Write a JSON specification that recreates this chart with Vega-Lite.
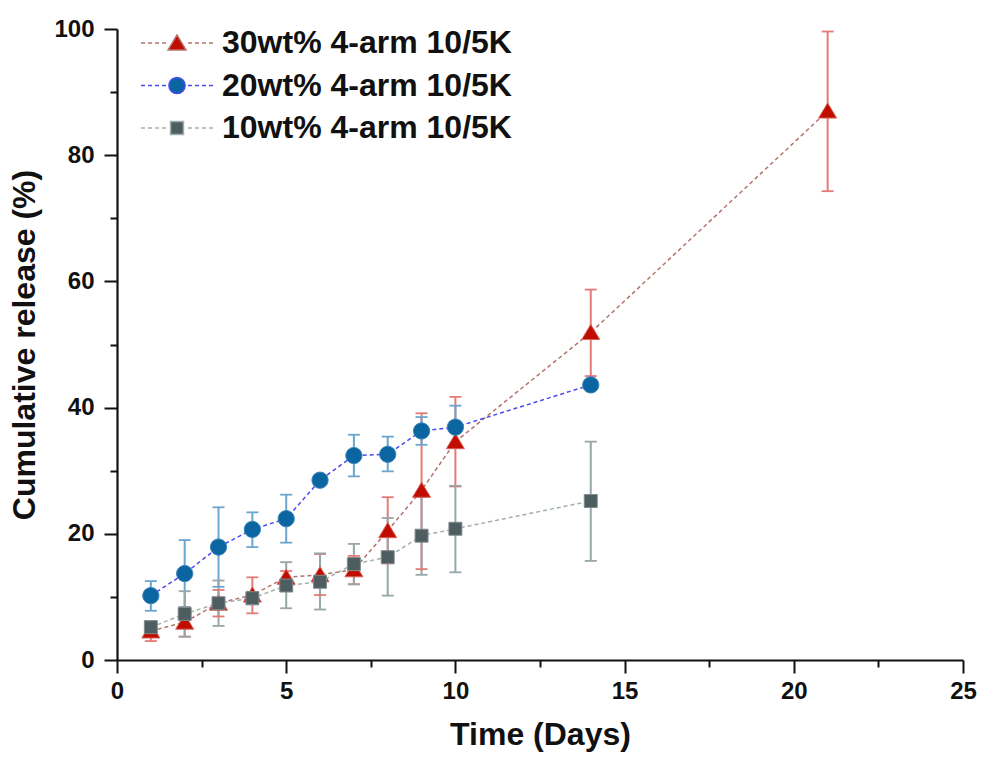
{
  "$schema": "https://vega.github.io/schema/vega-lite/v6.json",
  "autosize": {"type": "none"},
  "width": 846,
  "height": 631,
  "padding": {"left": 117, "top": 29, "right": 19, "bottom": 100},
  "background": "white",
  "data": {"values": [
    {"series": "30wt% 4-arm 10/5K", "day": 1, "value": 4.6, "lo": 3.0, "hi": 6.2},
    {"series": "30wt% 4-arm 10/5K", "day": 2, "value": 6.0, "lo": 3.7, "hi": 8.3},
    {"series": "30wt% 4-arm 10/5K", "day": 3, "value": 9.0, "lo": 6.9, "hi": 11.1},
    {"series": "30wt% 4-arm 10/5K", "day": 4, "value": 10.3, "lo": 7.4, "hi": 13.1},
    {"series": "30wt% 4-arm 10/5K", "day": 5, "value": 13.1, "lo": 12.0, "hi": 14.1},
    {"series": "30wt% 4-arm 10/5K", "day": 6, "value": 13.5, "lo": 10.3, "hi": 16.8},
    {"series": "30wt% 4-arm 10/5K", "day": 7, "value": 14.3, "lo": 12.0, "hi": 16.5},
    {"series": "30wt% 4-arm 10/5K", "day": 8, "value": 20.5, "lo": 15.3, "hi": 25.8},
    {"series": "30wt% 4-arm 10/5K", "day": 9, "value": 26.9, "lo": 14.4, "hi": 39.1},
    {"series": "30wt% 4-arm 10/5K", "day": 10, "value": 34.6, "lo": 27.5, "hi": 41.7},
    {"series": "30wt% 4-arm 10/5K", "day": 14, "value": 51.9, "lo": 45.0, "hi": 58.7},
    {"series": "30wt% 4-arm 10/5K", "day": 21, "value": 87.0, "lo": 74.3, "hi": 99.6},
    {"series": "20wt% 4-arm 10/5K", "day": 1, "value": 10.2, "lo": 7.8, "hi": 12.5},
    {"series": "20wt% 4-arm 10/5K", "day": 2, "value": 13.7, "lo": 8.4, "hi": 19.0},
    {"series": "20wt% 4-arm 10/5K", "day": 3, "value": 17.9, "lo": 11.6, "hi": 24.2},
    {"series": "20wt% 4-arm 10/5K", "day": 4, "value": 20.7, "lo": 17.9, "hi": 23.4},
    {"series": "20wt% 4-arm 10/5K", "day": 5, "value": 22.4, "lo": 18.6, "hi": 26.2},
    {"series": "20wt% 4-arm 10/5K", "day": 6, "value": 28.5, "lo": 28.0, "hi": 29.0},
    {"series": "20wt% 4-arm 10/5K", "day": 7, "value": 32.4, "lo": 29.1, "hi": 35.7},
    {"series": "20wt% 4-arm 10/5K", "day": 8, "value": 32.6, "lo": 29.9, "hi": 35.4},
    {"series": "20wt% 4-arm 10/5K", "day": 9, "value": 36.3, "lo": 34.1, "hi": 38.5},
    {"series": "20wt% 4-arm 10/5K", "day": 10, "value": 36.9, "lo": 33.6, "hi": 40.3},
    {"series": "20wt% 4-arm 10/5K", "day": 14, "value": 43.6, "lo": 43.1, "hi": 44.1},
    {"series": "10wt% 4-arm 10/5K", "day": 1, "value": 5.2, "lo": 4.2, "hi": 6.2},
    {"series": "10wt% 4-arm 10/5K", "day": 2, "value": 7.3, "lo": 3.7, "hi": 10.9},
    {"series": "10wt% 4-arm 10/5K", "day": 3, "value": 9.0, "lo": 5.4, "hi": 12.6},
    {"series": "10wt% 4-arm 10/5K", "day": 4, "value": 9.8, "lo": 8.8, "hi": 10.8},
    {"series": "10wt% 4-arm 10/5K", "day": 5, "value": 11.8, "lo": 8.2, "hi": 15.5},
    {"series": "10wt% 4-arm 10/5K", "day": 6, "value": 12.4, "lo": 8.0, "hi": 16.9},
    {"series": "10wt% 4-arm 10/5K", "day": 7, "value": 15.2, "lo": 12.0, "hi": 18.4},
    {"series": "10wt% 4-arm 10/5K", "day": 8, "value": 16.3, "lo": 10.2, "hi": 22.5},
    {"series": "10wt% 4-arm 10/5K", "day": 9, "value": 19.7, "lo": 13.5, "hi": 25.9},
    {"series": "10wt% 4-arm 10/5K", "day": 10, "value": 20.8, "lo": 13.9, "hi": 27.6},
    {"series": "10wt% 4-arm 10/5K", "day": 14, "value": 25.2, "lo": 15.7, "hi": 34.6}
  ]},
  "resolve": {"axis": {"x": "independent", "y": "independent"}},
  "layer": [
    {
      "transform": [{"filter": "datum.day < 0"}],
      "mark": {"type": "point", "filled": true, "opacity": 1, "size": 324, "strokeWidth": 1.5},
      "encoding": {
        "x": {"field": "day", "type": "quantitative", "axis": null, "scale": {"domain": [0, 25], "nice": false}},
        "y": {"field": "value", "type": "quantitative", "axis": null, "scale": {"domain": [0, 100], "nice": false}},
        "shape": {"field": "series", "type": "nominal", "legend": {"title": null},
                  "scale": {"domain": ["30wt% 4-arm 10/5K", "20wt% 4-arm 10/5K", "10wt% 4-arm 10/5K"],
                            "range": [
                              "M-1,0.78L0,-0.9L1,0.78ZM-4,0L-3.55,0M-3.22,0L-2.77,0M-2.44,0L-1.99,0M-1.66,0L-1.21,0M1.21,0L1.66,0M1.99,0L2.44,0M2.77,0L3.22,0M3.55,0L4,0",
                              "M-0.9,0A0.9,0.9,0,1,1,0.9,0A0.9,0.9,0,1,1,-0.9,0ZM-4,0L-3.55,0M-3.22,0L-2.77,0M-2.44,0L-1.99,0M-1.66,0L-1.21,0M1.21,0L1.66,0M1.99,0L2.44,0M2.77,0L3.22,0M3.55,0L4,0",
                              "M-0.72,-0.72L0.72,-0.72L0.72,0.72L-0.72,0.72ZM-4,0L-3.55,0M-3.22,0L-2.77,0M-2.44,0L-1.99,0M-1.66,0L-1.21,0M1.21,0L1.66,0M1.99,0L2.44,0M2.77,0L3.22,0M3.55,0L4,0"
                            ]}},
        "fill": {"field": "series", "type": "nominal", "legend": {"title": null},
                 "scale": {"domain": ["30wt% 4-arm 10/5K", "20wt% 4-arm 10/5K", "10wt% 4-arm 10/5K"], "range": ["#C00D00", "#0A65A0", "#4D5D60"]}},
        "stroke": {"field": "series", "type": "nominal", "legend": {"title": null},
                   "scale": {"domain": ["30wt% 4-arm 10/5K", "20wt% 4-arm 10/5K", "10wt% 4-arm 10/5K"], "range": ["#B5736D", "#4A4AF0", "#A2B0AC"]}}
      }
    },
    {
      "mark": {"type": "rule", "strokeWidth": 2},
      "encoding": {
        "x": {"field": "day", "type": "quantitative",
              "axis": {"values": [0, 5, 10, 15, 20, 25], "tickSize": 13, "title": "Time (Days)", "titlePadding": 16, "labelPadding": 6, "labelFlush": false, "orient": "bottom"}},
        "y": {"field": "lo", "type": "quantitative",
              "axis": {"values": [0, 20, 40, 60, 80, 100], "tickSize": 13, "title": "Cumulative release (%)", "titlePadding": 12, "labelPadding": 10, "labelFlush": false, "orient": "left"}},
        "y2": {"field": "hi"},
        "color": {"field": "series", "type": "nominal", "legend": null,
                  "scale": {"domain": ["30wt% 4-arm 10/5K", "20wt% 4-arm 10/5K", "10wt% 4-arm 10/5K"], "range": ["#E47B76", "#6AA6CF", "#97A6A8"]}}
      }
    },
    {
      "mark": {"type": "tick", "orient": "horizontal", "size": 12, "thickness": 1.8, "opacity": 1},
      "encoding": {
        "x": {"field": "day", "type": "quantitative",
              "axis": {"values": [2.5, 7.5, 12.5, 17.5, 22.5], "tickSize": 7, "labels": false, "domain": false, "title": null, "orient": "bottom"}},
        "y": {"field": "lo", "type": "quantitative",
              "axis": {"values": [10, 30, 50, 70, 90], "tickSize": 7, "labels": false, "domain": false, "title": null, "orient": "left"}},
        "color": {"field": "series", "type": "nominal", "legend": null}
      }
    },
    {
      "mark": {"type": "tick", "orient": "horizontal", "size": 12, "thickness": 1.8, "opacity": 1},
      "encoding": {
        "x": {"field": "day", "type": "quantitative", "axis": null},
        "y": {"field": "hi", "type": "quantitative", "axis": null},
        "color": {"field": "series", "type": "nominal", "legend": null}
      }
    },
    {
      "mark": {"type": "line", "strokeWidth": 1.5, "strokeDash": [4, 3]},
      "encoding": {
        "x": {"field": "day", "type": "quantitative", "axis": null},
        "y": {"field": "value", "type": "quantitative", "axis": null},
        "stroke": {"field": "series", "type": "nominal"}
      }
    },
    {
      "transform": [{"filter": "datum.series == '30wt% 4-arm 10/5K'"}],
      "mark": {"type": "point", "filled": true, "opacity": 1, "size": 324, "strokeWidth": 1, "fill": "#C00D00", "stroke": "#D9605A", "shape": "M-1,0.78L0,-0.9L1,0.78Z"},
      "encoding": {
        "x": {"field": "day", "type": "quantitative", "axis": null},
        "y": {"field": "value", "type": "quantitative", "axis": null}
      }
    },
    {
      "transform": [{"filter": "datum.series == '20wt% 4-arm 10/5K'"}],
      "mark": {"type": "point", "filled": true, "opacity": 1, "size": 324, "strokeWidth": 1, "fill": "#0A65A0", "stroke": "#3D86BA", "shape": "M-0.9,0A0.9,0.9,0,1,1,0.9,0A0.9,0.9,0,1,1,-0.9,0Z"},
      "encoding": {
        "x": {"field": "day", "type": "quantitative", "axis": null},
        "y": {"field": "value", "type": "quantitative", "axis": null}
      }
    },
    {
      "transform": [{"filter": "datum.series == '10wt% 4-arm 10/5K'"}],
      "mark": {"type": "point", "filled": true, "opacity": 1, "size": 324, "strokeWidth": 1, "fill": "#4D5D60", "stroke": "#7E8C8E", "shape": "M-0.72,-0.72L0.72,-0.72L0.72,0.72L-0.72,0.72Z"},
      "encoding": {
        "x": {"field": "day", "type": "quantitative", "axis": null},
        "y": {"field": "value", "type": "quantitative", "axis": null}
      }
    }
  ],
  "config": {
    "view": {"stroke": null},
    "axis": {
      "grid": false,
      "labelFont": "Liberation Sans", "labelFontSize": 24, "labelFontWeight": "bold", "labelColor": "#111111",
      "titleFont": "Liberation Sans", "titleFontSize": 32, "titleFontWeight": "bold", "titleColor": "#111111",
      "domainColor": "#111111", "domainWidth": 2.2, "tickColor": "#111111", "tickWidth": 2
    },
    "legend": {
      "orient": "none", "legendX": 44, "legendY": -2, "padding": 0,
      "symbolSize": 324, "symbolStrokeWidth": 1.5, "labelOffset": 29,
      "labelFont": "Liberation Sans", "labelFontSize": 32, "labelFontWeight": "bold", "labelColor": "#111111",
      "rowPadding": 10.5, "labelLimit": 600
    }
  }
}
